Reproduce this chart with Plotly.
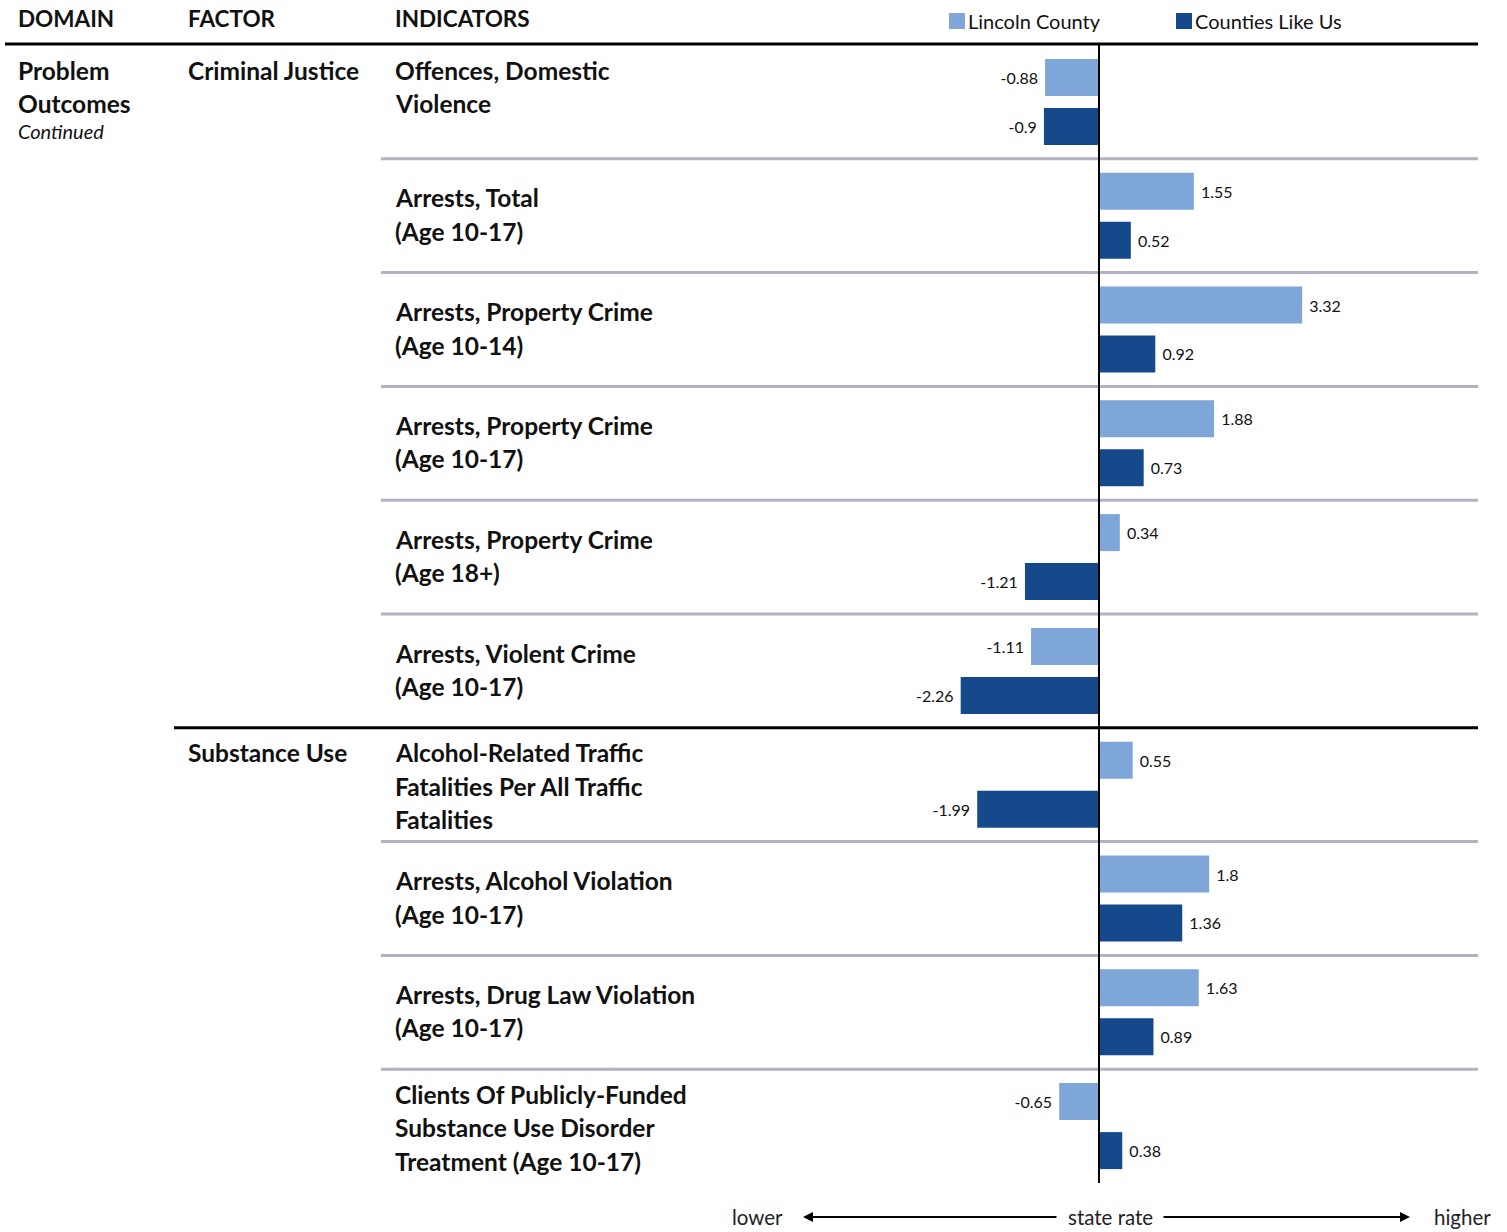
import plotly.graph_objects as go

# ---------------- data ----------------
indicator_lines = [
    ["Offences, Domestic", "Violence"],
    ["Arrests, Total", "(Age 10-17)"],
    ["Arrests, Property Crime", "(Age 10-14)"],
    ["Arrests, Property Crime", "(Age 10-17)"],
    ["Arrests, Property Crime", "(Age 18+)"],
    ["Arrests, Violent Crime", "(Age 10-17)"],
    ["Alcohol-Related Traffic", "Fatalities Per All Traffic", "Fatalities"],
    ["Arrests, Alcohol Violation", "(Age 10-17)"],
    ["Arrests, Drug Law Violation", "(Age 10-17)"],
    ["Clients Of Publicly-Funded", "Substance Use Disorder", "Treatment (Age 10-17)"],
]
factors = ["Criminal Justice"] * 6 + ["Substance Use"] * 4
domain_lines = ["Problem", "Outcomes"]
domain_note = "Continued"
lincoln_county = [-0.88, 1.55, 3.32, 1.88, 0.34, -1.11, 0.55, 1.8, 1.63, -0.65]
counties_like_us = [-0.9, 0.52, 0.92, 0.73, -1.21, -2.26, -1.99, 1.36, 0.89, 0.38]
series_names = ["Lincoln County", "Counties Like Us"]
headers = ["DOMAIN", "FACTOR", "INDICATORS"]
axis_words = ["lower", "state rate", "higher"]

# ---------------- style / layout ----------------
W, H = 1507, 1232
# plot area in page pixels
P_LEFT, P_RIGHT, P_TOP, P_BOTTOM = 5, 1478, 45, 1183
ML, MR = P_LEFT, W - P_RIGHT
MT, MB = P_TOP, H - P_BOTTOM
PW, PH = P_RIGHT - P_LEFT, P_BOTTOM - P_TOP
N = len(indicator_lines)
ROW_PX = PH / N
ZERO_PX = 1099
SCALE = 61.2  # px per unit
XMIN = -(ZERO_PX - P_LEFT) / SCALE
XMAX = (P_RIGHT - ZERO_PX) / SCALE

LIGHT = "#7EA6D8"
DARK = "#16498B"
GRID = "#B4B2C0"
TXT = "#111111"
FONT = "Lato"
NB = "\u00a0"
LABEL_SIZE = 24.5
HEAD_SIZE = 22.5


def px(xp):
    return (xp - P_LEFT) / PW


def py(yp):
    return (P_BOTTOM - yp) / PH


def row_y(i, off_px):
    return i - 0.5 + off_px / ROW_PX


cats = [" ".join(l) for l in indicator_lines]


def lab(v):
    s = f"{v:g}"
    return s + NB if v < 0 else NB + s


fig = go.Figure()
for name, vals, col in [(series_names[0], lincoln_county, LIGHT),
                        (series_names[1], counties_like_us, DARK)]:
    fig.add_trace(go.Bar(
        y=cats, x=vals, orientation="h", name=name,
        marker=dict(color=col, line=dict(width=0)),
        text=[lab(v) for v in vals], textposition="outside",
        textfont=dict(family=FONT, size=16, color=TXT),
        constraintext="none", cliponaxis=False, hoverinfo="skip",
        showlegend=False,
    ))

shapes = []
annotations = []

# header line
shapes.append(dict(type="line", xref="paper", yref="paper", x0=px(5), x1=1,
                   y0=py(44), y1=py(44), line=dict(color="#000", width=3)))
# row separators
for i in range(N - 1):
    if factors[i] != factors[i + 1]:
        shapes.append(dict(type="line", xref="paper", yref="y", x0=px(174), x1=1,
                           y0=i + 0.5, y1=i + 0.5, line=dict(color="#000", width=3)))
    else:
        shapes.append(dict(type="line", xref="paper", yref="y", x0=px(381), x1=1,
                           y0=i + 0.5, y1=i + 0.5, line=dict(color=GRID, width=3)))
# zero line
shapes.append(dict(type="line", xref="x", yref="paper", x0=0, x1=0, y0=0, y1=1,
                   line=dict(color="#000", width=2), layer="above"))

# headers
for txt, xp in zip(headers, [18, 188, 395]):
    annotations.append(dict(text=f"<b>{txt}</b>", xref="paper", yref="paper",
                            x=px(xp - 2), y=py(18), xanchor="left", yanchor="middle",
                            showarrow=False, font=dict(family=FONT, size=HEAD_SIZE, color=TXT)))
# legend
for k, (name, col) in enumerate(zip(series_names, [LIGHT, DARK])):
    x0 = [949, 1176][k]
    shapes.append(dict(type="rect", xref="paper", yref="paper", x0=px(x0), x1=px(x0 + 16),
                       y0=py(29), y1=py(13), fillcolor=col, line=dict(width=0)))
    annotations.append(dict(text=name, xref="paper", yref="paper", x=px(x0 + 17),
                            y=py(21), xanchor="left", yanchor="middle", showarrow=False,
                            font=dict(family=FONT, size=20, color=TXT)))

# domain
for j, t in enumerate(domain_lines):
    annotations.append(dict(text=f"<b>{t}</b>", xref="paper", yref="y", x=px(16),
                            y=row_y(0, 25 + j * 33.5), xanchor="left", yanchor="middle",
                            showarrow=False, font=dict(family=FONT, size=LABEL_SIZE, color=TXT)))
annotations.append(dict(text=f"<i>{domain_note}</i>", xref="paper", yref="y", x=px(16),
                        y=row_y(0, 86), xanchor="left", yanchor="middle",
                        showarrow=False, font=dict(family=FONT, size=20, color=TXT)))
# factors
for i, f in enumerate(factors):
    if i == 0 or factors[i - 1] != f:
        annotations.append(dict(text=f"<b>{f}</b>", xref="paper", yref="y", x=px(186),
                                y=row_y(i, 25), xanchor="left", yanchor="middle",
                                showarrow=False, font=dict(family=FONT, size=LABEL_SIZE, color=TXT)))
# indicators
for i, lines in enumerate(indicator_lines):
    first = 25 if (len(lines) == 3 or i == 0) else 39
    for j, t in enumerate(lines):
        annotations.append(dict(text=f"<b>{t}</b>", xref="paper", yref="y", x=px(393),
                                y=row_y(i, first + j * 33.5), xanchor="left",
                                yanchor="middle", showarrow=False,
                                font=dict(family=FONT, size=LABEL_SIZE, color=TXT)))

# bottom axis legend
for t, xc in zip(axis_words, [757, 1110, 1462]):
    annotations.append(dict(text=t, xref="paper", yref="paper", x=px(xc), y=py(1217),
                            xanchor="center", yanchor="middle", showarrow=False,
                            font=dict(family=FONT, size=20.5, color="#222")))
for tip, tail in [(803, 1058), (1410, 1162)]:
    annotations.append(dict(text="", xref="paper", yref="paper", x=px(tip), y=py(1217),
                            ax=tail - tip, ay=0, showarrow=True, arrowhead=2,
                            arrowsize=1, arrowwidth=2, arrowcolor="#000", standoff=0))

fig.update_layout(
    width=W, height=H, margin=dict(l=ML, r=MR, t=MT, b=MB, pad=0),
    paper_bgcolor="white", plot_bgcolor="white",
    barmode="group", bargap=0.139, bargroupgap=0.245,
    xaxis=dict(range=[XMIN, XMAX], showgrid=False, zeroline=False,
               showticklabels=False, ticks="", fixedrange=True),
    yaxis=dict(range=[N - 0.5, -0.5], showgrid=False, zeroline=False,
               showticklabels=False, ticks="", type="category", fixedrange=True),
    shapes=shapes, annotations=annotations,
    font=dict(family=FONT, color=TXT),
)

fig.write_html(
    "out.html", include_plotlyjs=True, config={"displayModeBar": False},
    post_script="document.body.style.margin='0';"
                "document.documentElement.style.overflow='hidden';",
)
